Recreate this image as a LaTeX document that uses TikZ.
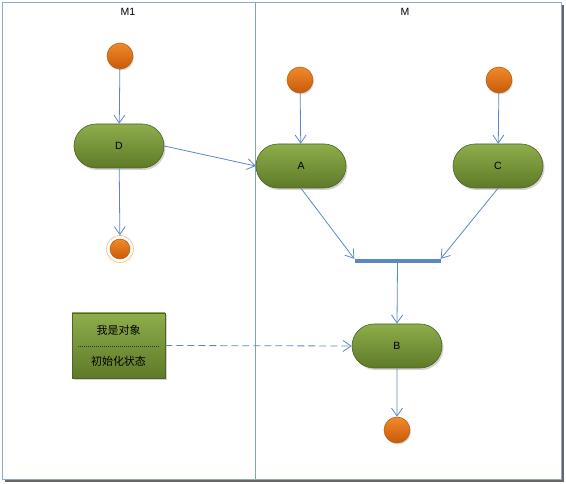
\documentclass[tikz,border=0pt]{standalone}
\usepackage{fontspec}
\setmainfont{Liberation Sans}
\newfontfamily\cjk{Noto Sans CJK SC}
\usetikzlibrary{arrows.meta,shapes.misc,shadows}
\definecolor{lineblue}{HTML}{5B88C4}
\definecolor{frameblue}{HTML}{8DA9CF}
\definecolor{gtop}{HTML}{8EAD4B}
\definecolor{gbot}{HTML}{5E7A28}
\definecolor{gdraw}{HTML}{4F6228}
\definecolor{otop}{HTML}{F08A2C}
\definecolor{obot}{HTML}{C95A08}
\definecolor{odraw}{HTML}{B65708}
\tikzset{
  act/.style={rounded rectangle, minimum width=90pt, minimum height=44pt,
    top color=gtop, bottom color=gbot, draw=gdraw, line width=0.6pt,
    drop shadow={shadow xshift=1.5pt, shadow yshift=-2pt, opacity=0.35},
    font=\fontsize{10.5}{12}\selectfont, inner sep=0pt},
  startdot/.style={circle, minimum size=26pt, inner sep=0pt,
    top color=otop, bottom color=obot, draw=odraw, line width=0.5pt,
    drop shadow={shadow xshift=1pt, shadow yshift=-1.5pt, opacity=0.3}},
  flow/.style={draw=lineblue, line width=0.8pt,
    -{Straight Barb[length=8pt,width=11pt,line width=0.8pt]}},
  lanelabel/.style={font=\fontsize{10.5}{12}\selectfont},
  cjklabel/.style={font=\cjk\fontsize{11}{13}\selectfont, inner sep=0pt},
}
\begin{document}
\begin{tikzpicture}[x=1pt,y=-1pt]
\useasboundingbox (0,0) rectangle (566,484);
% frame with shadow
\fill[black!60] (5,5) rectangle (564,482);
\fill[white] (2,2) rectangle (561,479);
\draw[frameblue, line width=0.8pt] (2,2) rectangle (561,479);
\draw[lineblue!80, line width=0.8pt] (255,2) -- (255,479);
\node[lanelabel] (m1) at (128,12) {M1};
\node[lanelabel] (m) at (405,12) {M};
% nodes
\node[startdot] (s1) at (120,56) {};
\node[act] (D) at (119,146) {D};
\node[circle, minimum size=27pt, inner sep=0pt, draw=otop!60, fill=white, line width=0.6pt] (e1) at (120,249) {};
\node[circle, minimum size=20pt, inner sep=0pt, top color=otop, bottom color=obot, draw=odraw, line width=0.5pt] (e1in) at (120,249) {};
\node[startdot] (s2) at (300,80) {};
\node[startdot] (s3) at (499,80) {};
\node[act] (A) at (301,166) {A};
\node[act] (C) at (498,166) {C};
\node[rectangle, fill=lineblue, minimum width=86pt, minimum height=4pt, inner sep=0pt] (bar) at (397.5,261) {};
\node[act] (B) at (397,346) {B};
\node[startdot] (e2) at (397,430) {};
% object box
\node[rectangle, minimum width=93pt, minimum height=65pt, inner sep=0pt,
  top color=gtop, bottom color=gbot, draw=gdraw, line width=0.6pt,
  drop shadow={shadow xshift=2pt, shadow yshift=-2.5pt, opacity=0.35}] (obj) at (118.5,345.5) {};
\node[cjklabel] (t1) at (118.5,330) {我是对象};
\node[cjklabel] (t2) at (118.5,361) {初始化状态};
\coordinate (dl) at (78,346);
\coordinate (dr) at (159,346);
\draw[black!80, dash pattern=on 1.2pt off 0.8pt, line width=0.5pt] (dl) -- (dr);
% connectors
\draw[flow] (s1) -- (D);
\draw[flow] (D) -- (e1);
\draw[flow] (D.east) -- (A.west);
\draw[flow] (s2) -- (A);
\draw[flow] (s3) -- (C);
\draw[flow] (A.south) -- (bar.north west);
\draw[flow] (C.south) -- (bar.north east);
\draw[flow] (bar.south) -- (B.north);
\draw[flow] (B) -- (e2);
\draw[flow, dash pattern=on 7pt off 4pt] (obj.east) -- (B.west);
\end{tikzpicture}
\end{document}
